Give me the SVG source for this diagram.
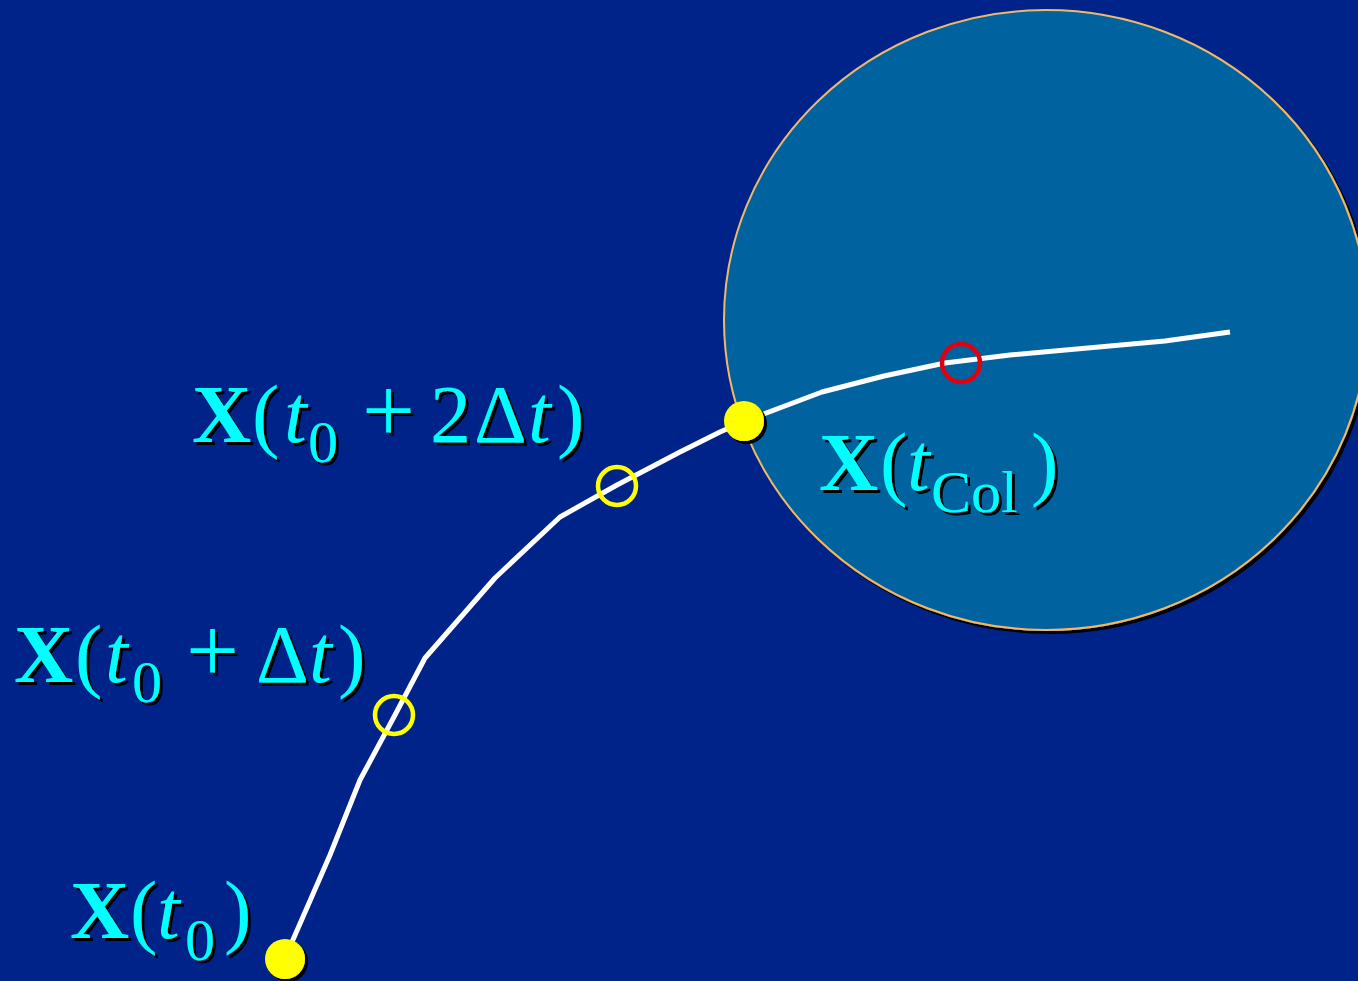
<svg xmlns="http://www.w3.org/2000/svg" width="1358" height="981" viewBox="0 0 1358 981">
<defs>
<filter id="sh" x="-10%" y="-10%" width="130%" height="130%">
<feDropShadow dx="3" dy="3" stdDeviation="0.4" flood-color="#000" flood-opacity="1"/>
</filter>
<style>
.lbl{font-family:"Liberation Serif","Times New Roman",serif;fill:#00ffff;font-size:82px;filter:url(#sh)}
.b{font-weight:bold}
.i{font-style:italic}
.s{font-size:60px}
.p{font-size:94px}
.dot{fill:#ffff00;filter:url(#sh)}
.ring{fill:none;stroke:#ffff00;stroke-width:4.5}
</style>
</defs>
<rect width="1358" height="981" fill="#00238a"/>
<g id="region">
<ellipse cx="1046" cy="320" rx="322" ry="310" fill="#0064a0" stroke="#f2b868" stroke-width="2" filter="url(#sh)"/>
</g>
<g id="connectors">
<polyline points="285,958 330,855 360,780 395,715 425,658 495,578 560,517 617,485 680,452 720,432 745,421 822,392 884,376 945,363 1010,355 1165,341 1230,332" fill="none" stroke="#ffffff" stroke-width="5" stroke-linejoin="round"/>
</g>
<g id="p0"><circle class="dot" cx="285" cy="959" r="20"/></g>
<g id="p1"><circle class="ring" cx="394" cy="715" r="19"/></g>
<g id="p2"><circle class="ring" cx="617" cy="486" r="19"/></g>
<g id="pcol"><circle class="dot" cx="744" cy="421" r="20"/></g>
<g id="pred"><circle cx="961" cy="363" r="19" fill="none" stroke="#e00010" stroke-width="4.5"/></g>
<g id="label-t0">
<text class="lbl" y="938"><tspan class="b" x="70">X</tspan><tspan x="130">(</tspan><tspan class="i" x="157">t</tspan><tspan class="s" x="185" y="960">0</tspan><tspan x="224" y="938">)</tspan></text>
</g>
<g id="label-t1">
<text class="lbl" y="682"><tspan class="b" x="14">X</tspan><tspan x="75">(</tspan><tspan class="i" x="105">t</tspan><tspan class="s" x="132" y="702">0</tspan><tspan class="p" x="186" y="682">+</tspan><tspan x="256">Δ</tspan><tspan class="i" x="309">t</tspan><tspan x="338">)</tspan></text>
</g>
<g id="label-t2">
<text class="lbl" y="442"><tspan class="b" x="192">X</tspan><tspan x="252">(</tspan><tspan class="i" x="284">t</tspan><tspan class="s" x="308" y="462">0</tspan><tspan class="p" x="362" y="442">+</tspan><tspan x="430">2</tspan><tspan x="474">Δ</tspan><tspan class="i" x="528">t</tspan><tspan x="557">)</tspan></text>
</g>
<g id="label-tcol">
<text class="lbl" y="490"><tspan class="b" x="819">X</tspan><tspan x="880">(</tspan><tspan class="i" x="907">t</tspan><tspan class="s" x="931" y="512">Col</tspan><tspan x="1031" y="490">)</tspan></text>
</g>
</svg>
